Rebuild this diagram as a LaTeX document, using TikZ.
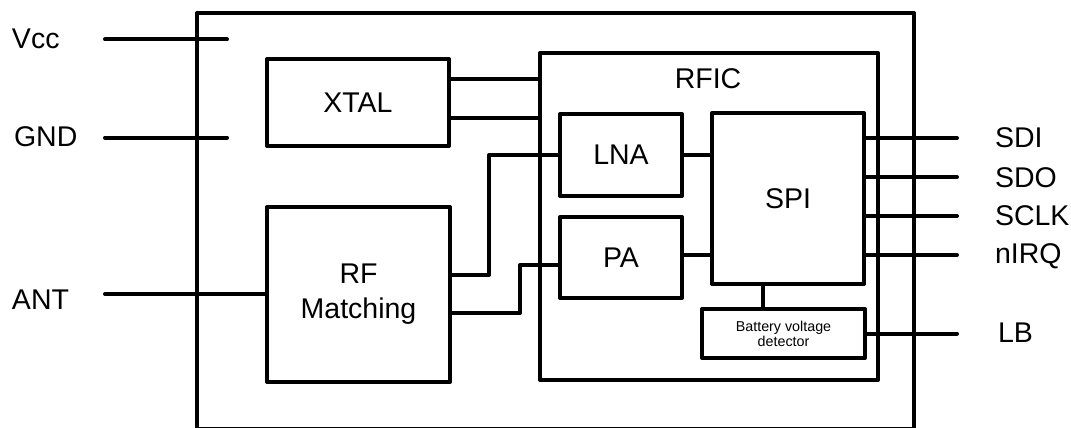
\documentclass[tikz,border=0pt]{standalone}
\usepackage{fontspec}
\setmainfont{Liberation Sans}
\begin{document}
\begin{tikzpicture}[x=1pt,y=-1pt, line width=4pt, line join=round,
  blk/.style={draw, rectangle, inner sep=0pt, outer sep=0pt, align=center, font=\fontsize{28.5}{34}\selectfont},
  wire/.style={line cap=round},
  lbl/.style={font=\fontsize{28.5}{34}\selectfont, inner sep=0pt, outer sep=0pt, anchor=west}]
\useasboundingbox (0,0) rectangle (1071,428);
% blocks
\node[blk, minimum width=717pt, minimum height=416.3pt] (module) at (555.5,221.15) {};
\node[blk, minimum width=182pt, minimum height=87pt] (xtal) at (358,102.5) {XTAL};
\node[blk, minimum width=338pt, minimum height=327pt] (rfic) at (709,216.5) {};
\node[lbl, anchor=center] (rficlbl) at (708,79) {RFIC};
\node[blk, minimum width=122pt, minimum height=82pt] (lna) at (621,155) {LNA};
\node[blk, minimum width=122pt, minimum height=81pt] (pa) at (621,257.5) {PA};
\node[blk, minimum width=152pt, minimum height=171pt] (spi) at (788,198.5) {SPI};
\node[blk, minimum width=163pt, minimum height=49pt, font=\fontsize{14.3}{15}\selectfont] (bat) at (783.5,333.5) {Battery voltage\\detector};
\node[blk, minimum width=183pt, minimum height=175pt, font=\fontsize{28.5}{35}\selectfont] (rfm) at (358.5,294.5) {RF\\Matching};
% helper coordinates
\coordinate (r79) at (0,79);
\coordinate (r118) at (0,118);
\coordinate (r275) at (0,275);
\coordinate (r313) at (0,313);
\coordinate (r265) at (0,265);
\coordinate (r255) at (0,255);
\coordinate (lj) at (489,0);
\coordinate (pj) at (520,0);
\coordinate (sb) at (763,0);
% left pins
\coordinate (vccA) at (105,39.5);
\coordinate (vccB) at (227,39.5);
\coordinate (gndA) at (105,137.5);
\coordinate (gndB) at (227,137.5);
\coordinate (antA) at (105,294);
\draw[wire] (vccA) -- (vccB);
\draw[wire] (gndA) -- (gndB);
\draw[wire] (antA) -- (antA -| rfm.west);
\node[lbl] (vcc) at (12,39) {Vcc};
\node[lbl] (gnd) at (14,137) {GND};
\node[lbl] (ant) at (12,300) {ANT};
% internal wiring
\draw (xtal.east |- r79) -- (rfic.west |- r79);
\draw (xtal.east |- r118) -- (rfic.west |- r118);
\draw (rfm.east |- r275) -| (lj |- lna.west) -- (lna.west);
\draw (rfm.east |- r313) -| (pj |- r265) -- (pa.west |- r265);
\draw (lna.east) -- (lna.east -| spi.west);
\draw (pa.east |- r255) -- (spi.west |- r255);
\draw (spi.south -| sb) -- (bat.north -| sb);
% right pins
\coordinate (sdiE) at (957,138);
\coordinate (sdoE) at (957,177);
\coordinate (sclkE) at (957,216);
\coordinate (nirqE) at (957,255);
\coordinate (lbE) at (957,333.5);
\draw[wire] (spi.east |- sdiE) -- (sdiE);
\draw[wire] (spi.east |- sdoE) -- (sdoE);
\draw[wire] (spi.east |- sclkE) -- (sclkE);
\draw[wire] (spi.east |- nirqE) -- (nirqE);
\draw[wire] (bat.east) -- (lbE);
\node[lbl] (sdi) at (995,138) {SDI};
\node[lbl] (sdo) at (995,178) {SDO};
\node[lbl] (sclk) at (995,216) {SCLK};
\node[lbl] (nirq) at (995,256) {nIRQ};
\node[lbl] (lb) at (998,333) {LB};
\end{tikzpicture}
\end{document}
